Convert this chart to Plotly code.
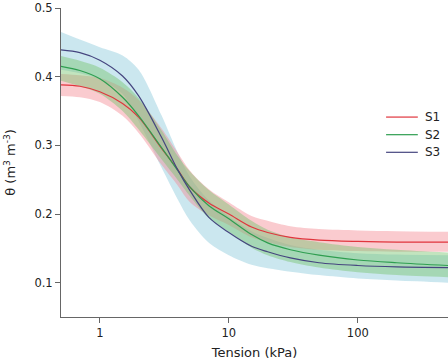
import plotly.graph_objects as go

tension = [0.5, 0.7, 1, 1.5, 2, 3, 4, 5, 7, 10, 15, 20, 30, 50, 100, 200, 500]

s1 = [0.388, 0.386, 0.378, 0.361, 0.341, 0.296, 0.265, 0.239, 0.216, 0.200, 0.181, 0.173, 0.166, 0.162, 0.160, 0.159, 0.159]
s1_lo = [0.372, 0.370, 0.363, 0.343, 0.318, 0.272, 0.242, 0.217, 0.198, 0.184, 0.166, 0.159, 0.152, 0.148, 0.146, 0.145, 0.145]
s1_hi = [0.404, 0.402, 0.398, 0.384, 0.366, 0.325, 0.290, 0.263, 0.236, 0.217, 0.197, 0.190, 0.182, 0.178, 0.176, 0.175, 0.174]

s2 = [0.415, 0.409, 0.397, 0.370, 0.343, 0.297, 0.264, 0.239, 0.212, 0.193, 0.170, 0.158, 0.148, 0.140, 0.133, 0.129, 0.125]
s2_lo = [0.394, 0.386, 0.375, 0.350, 0.323, 0.280, 0.250, 0.226, 0.194, 0.174, 0.151, 0.140, 0.130, 0.122, 0.115, 0.111, 0.108]
s2_hi = [0.430, 0.423, 0.413, 0.392, 0.369, 0.322, 0.285, 0.262, 0.235, 0.214, 0.190, 0.177, 0.166, 0.159, 0.152, 0.148, 0.144]

s3 = [0.439, 0.435, 0.424, 0.401, 0.372, 0.312, 0.265, 0.234, 0.195, 0.173, 0.153, 0.145, 0.136, 0.129, 0.125, 0.123, 0.122]
s3_lo = [0.410, 0.405, 0.396, 0.375, 0.335, 0.268, 0.222, 0.190, 0.158, 0.140, 0.126, 0.121, 0.116, 0.111, 0.106, 0.103, 0.100]
s3_hi = [0.465, 0.454, 0.443, 0.431, 0.410, 0.344, 0.290, 0.254, 0.220, 0.196, 0.175, 0.165, 0.155, 0.148, 0.143, 0.141, 0.140]

names = ["S1", "S2", "S3"]
line_colors = {"S1": "#e0353d", "S2": "#2e9e50", "S3": "#45457f"}
band_colors = {"S1": "rgba(242,130,140,0.42)", "S2": "rgba(120,195,110,0.45)", "S3": "rgba(160,212,225,0.55)"}
data = {"S1": (s1, s1_lo, s1_hi), "S2": (s2, s2_lo, s2_hi), "S3": (s3, s3_lo, s3_hi)}

fig = go.Figure()
for name in ["S3", "S1", "S2"]:
    mid, lo, hi = data[name]
    fig.add_trace(go.Scatter(x=tension, y=hi, mode="lines", line=dict(width=0, shape="spline", smoothing=0.9),
                             showlegend=False, hoverinfo="skip"))
    fig.add_trace(go.Scatter(x=tension, y=lo, mode="lines", line=dict(width=0, shape="spline", smoothing=0.9),
                             fill="tonexty", fillcolor=band_colors[name], showlegend=False, hoverinfo="skip"))

for name in names:
    mid = data[name][0]
    fig.add_trace(go.Scatter(x=tension, y=mid, mode="lines", name=name, showlegend=False,
                             line=dict(color=line_colors[name], width=1.2, shape="spline", smoothing=0.9)))

# legend drawn manually inside the plot area (keeps the plot area full width)
legend_y = [0.647, 0.590, 0.533]
for name, ly in zip(names, legend_y):
    fig.add_shape(type="line", xref="paper", yref="paper", x0=0.840, x1=0.922, y0=ly, y1=ly,
                  line=dict(color=line_colors[name], width=1.2))
    fig.add_annotation(xref="paper", yref="paper", x=0.936, y=ly, text=name, showarrow=False,
                       xanchor="left", yanchor="middle", font=dict(size=12, color="#222222"))

axis_col = "#666666"
fig.update_layout(
    width=448, height=362,
    margin=dict(l=61, r=0, t=8, b=45),
    plot_bgcolor="white", paper_bgcolor="white",
    font=dict(family="DejaVu Sans", size=11.5, color="#222222"),
    showlegend=False,
    xaxis=dict(type="log", range=[-0.301, 2.699], tickvals=[1, 10, 100], ticktext=["1", "10", "100"],
               showline=True, linecolor=axis_col, linewidth=1, ticks="outside", ticklen=5,
               tickcolor=axis_col, showgrid=False, zeroline=False,
               title=dict(text="Tension (kPa)", font=dict(size=13), standoff=9)),
    yaxis=dict(range=[0.05, 0.5], tickvals=[0.1, 0.2, 0.3, 0.4, 0.5], tickformat=".1f",
               showline=True, linecolor=axis_col, linewidth=1, ticks="outside", ticklen=5,
               tickcolor=axis_col, showgrid=False, zeroline=False,
               title=dict(text="θ (m<sup>3</sup> m<sup>-3</sup>)", font=dict(size=13), standoff=15)),
)
fig.write_html("out.html")
